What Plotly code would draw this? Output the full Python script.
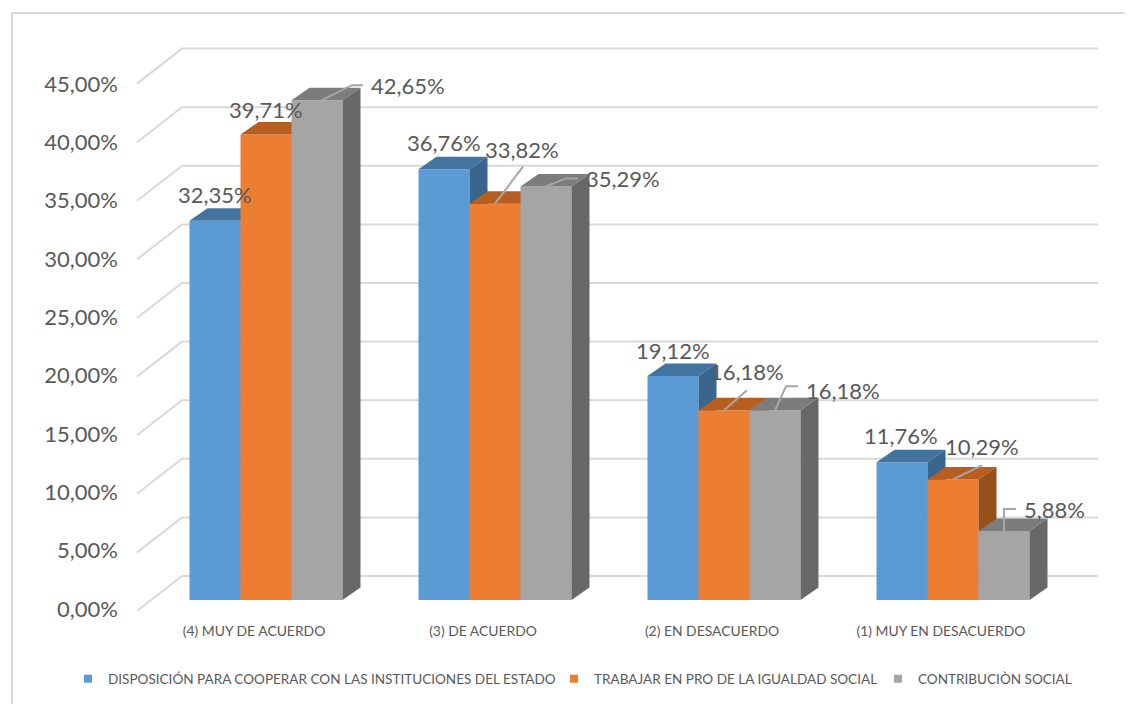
import plotly.graph_objects as go

categories = ["(4) MUY DE ACUERDO", "(3) DE ACUERDO", "(2) EN DESACUERDO", "(1) MUY EN DESACUERDO"]
series_names = ["DISPOSICIÓN PARA COOPERAR CON LAS INSTITUCIONES DEL ESTADO",
                "TRABAJAR EN PRO DE LA IGUALDAD SOCIAL",
                "CONTRIBUCIÒN SOCIAL"]
disposicion = [32.35, 36.76, 19.12, 11.76]
igualdad = [39.71, 33.82, 16.18, 10.29]
contribucion = [42.65, 35.29, 16.18, 5.88]
tick_values = [0, 5, 10, 15, 20, 25, 30, 35, 40, 45]
tick_labels = ["0,00%", "5,00%", "10,00%", "15,00%", "20,00%", "25,00%", "30,00%", "35,00%", "40,00%", "45,00%"]

all_series = [disposicion, igualdad, contribucion]
W, H = 1133, 704
PAGE = 8            # the page's body margin; the figure starts here
FW, FH = W - PAGE, H - PAGE
front_colors = ["#5B9BD5", "#ED7D31", "#A5A5A5"]
top_colors = ["#4374A0", "#B65E20", "#7C7C7C"]
side_colors = ["#3A658C", "#96501A", "#686868"]
TEXT = "#595959"
GRID = "#D9D9D9"
FONT = "Lato"

# scale of the chart, in page pixels
CAT_PX = 229.0      # px per category
VAL_PX = 11.72      # px per percentage point
CAT0_PX = 254.0     # px of first category label
BASE_PX = 600.0     # px of value 0 on the bar fronts
BAR_PX = 51.0
FIRST_BAR_PX = 189.5
DEPTH_X, DEPTH_Y = 18.0, 12.5

xr = [(PAGE - CAT0_PX) / CAT_PX, (W - CAT0_PX) / CAT_PX]
yr = [(BASE_PX - H) / VAL_PX, (BASE_PX - PAGE) / VAL_PX]
dxu = lambda p: p / CAT_PX
dyu = lambda p: p / VAL_PX
xpx = lambda p: (p - CAT0_PX) / CAT_PX
ypx = lambda p: (BASE_PX - p) / VAL_PX
paper_x = lambda p: (p - PAGE) / FW
paper_y = lambda p: 1 - (p - PAGE) / FH

fig = go.Figure()

# back wall: floor-to-wall diagonal plus horizontal gridline per tick
FRONT_X, BACK_X, END_X = 137, 182, 1098
FRONT_Y0, BACK_Y0 = 611, 576
wx, wy = [], []
for v in tick_values:
    wx += [xpx(FRONT_X), xpx(BACK_X), xpx(END_X), None]
    wy += [v + ypx(FRONT_Y0), v + ypx(BACK_Y0), v + ypx(BACK_Y0), None]
fig.add_trace(go.Scatter(x=wx, y=wy, mode="lines", line=dict(color=GRID, width=2),
                         hoverinfo="skip", showlegend=False))

# invisible trace that keeps the tick label axis alive
fig.add_trace(go.Scatter(x=[0, 0], y=[tick_values[0], tick_values[-1]], yaxis="y5", mode="lines",
                         line=dict(width=0), opacity=0, hoverinfo="skip", showlegend=False))

offset0 = (FIRST_BAR_PX - CAT0_PX) / CAT_PX
bw = BAR_PX / CAT_PX
idx = list(range(len(categories)))
for s, vals in enumerate(all_series):
    xa, ya = f"x{s + 2}", f"y{s + 2}"
    off = offset0 + s * bw
    fig.add_trace(go.Bar(x=idx, y=vals, width=bw, offset=off, marker=dict(color=front_colors[s], line=dict(width=0)),
                         name=series_names[s], xaxis=xa, yaxis=ya, showlegend=False))
    for i, v in zip(idx, vals):
        x0, x1 = i + off, i + off + bw
        dx, dy = dxu(DEPTH_X), dyu(DEPTH_Y)
        fig.add_trace(go.Scatter(x=[x0, x1, x1 + dx, x0 + dx, x0], y=[v, v, v + dy, v + dy, v],
                                 fill="toself", fillcolor=top_colors[s], mode="lines", line=dict(width=0),
                                 xaxis=xa, yaxis=ya, hoverinfo="skip", showlegend=False))
        fig.add_trace(go.Scatter(x=[x1, x1, x1 + dx, x1 + dx, x1], y=[0, v, v + dy, dy, 0],
                                 fill="toself", fillcolor=side_colors[s], mode="lines", line=dict(width=0),
                                 xaxis=xa, yaxis=ya, hoverinfo="skip", showlegend=False))


def anchor(s, c):
    return c + offset0 + (s + 0.5) * bw


# data labels: pixel offset of the label centre from the top centre of its bar
label_offsets = {
    0: [(0, -26), (0, -27), (0, -25), (-1, -27)],
    1: [(0, -25), (27, -54), (23, -39), (29, -33)],
    2: [(91, -15), (77, -8), (68, -20), (50, -22)],
}
# leader lines, in pixel offsets from the top centre of the bar
leaders = {
    (2, 0): [(5, 0), (35, -15), (46, -15)],
    (1, 1): [(0, 0), (28, -37)],
    (2, 1): [(0, 0), (20, -8), (32, -8)],
    (1, 2): [(0, 0), (23, -20)],
    (2, 2): [(0, 0), (11, -24), (23, -24)],
    (1, 3): [(0, 0), (29, -14)],
    (2, 3): [(0, 0), (0, -22), (12, -22)],
}
lx, ly = [], []
for (s, c), pts in leaders.items():
    v = all_series[s][c]
    for ox, oy in pts:
        lx.append(anchor(s, c) + dxu(ox))
        ly.append(v - dyu(oy))
    lx.append(None)
    ly.append(None)
fig.add_trace(go.Scatter(x=lx, y=ly, mode="lines", line=dict(color="#A6A6A6", width=2),
                         xaxis="x4", yaxis="y4", hoverinfo="skip", showlegend=False))

annotations = []
for s, vals in enumerate(all_series):
    for c, v in enumerate(vals):
        ox, oy = label_offsets[s][c]
        annotations.append(dict(x=anchor(s, c), y=v, xref="x", yref="y", xshift=ox, yshift=-oy,
                                text=f"{v:.2f}%".replace(".", ","), showarrow=False,
                                xanchor="center", yanchor="middle",
                                font=dict(family=FONT, size=22, color=TEXT)))

# legends, one per series so each text sits where the reference has it
legend_text_x = [108, 594, 918]
LEG_Y = 679
for s, name in enumerate(series_names):
    fig.add_trace(go.Scatter(x=[None], y=[None], mode="markers", name=name,
                             marker=dict(symbol="square", size=8, color=front_colors[s]),
                             legend="legend" if s == 0 else f"legend{s + 1}", showlegend=True))

layout = dict(
    width=FW, height=FH, autosize=False, margin=dict(l=0, r=0, t=0, b=0, autoexpand=False),
    paper_bgcolor="white", plot_bgcolor="rgba(0,0,0,0)", separators=",.",
    barmode="overlay", annotations=annotations,
    font=dict(family=FONT, color=TEXT),
    hovermode=False,
    xaxis=dict(range=xr, domain=[0, 1], tickmode="array", tickvals=idx, ticktext=categories,
               anchor="free", position=paper_y(621), showgrid=False, zeroline=False, showline=False, ticks="",
               tickfont=dict(family=FONT, size=13.9, color=TEXT)),
    yaxis=dict(range=yr, domain=[0, 1], visible=False, fixedrange=True),
    yaxis5=dict(range=[tick_values[0], tick_values[-1]], domain=[paper_y(609), paper_y(84)], anchor="free",
                position=paper_x(118), side="left", tickmode="array", tickvals=tick_values, ticktext=tick_labels,
                showgrid=False, zeroline=False, showline=False, ticks="",
                tickfont=dict(family=FONT, size=22, color=TEXT)),
    shapes=[dict(type="path", xref="paper", yref="paper",
                 path=f"M {paper_x(12)} 0 L {paper_x(12)} {paper_y(13)} L 1 {paper_y(13)}",
                 line=dict(color=GRID, width=2))],
)
for s in range(3):
    n = s + 2
    layout[f"xaxis{n}"] = dict(range=xr, overlaying="x", visible=False, anchor=f"y{n}")
    layout[f"yaxis{n}"] = dict(range=yr, overlaying="y", visible=False, anchor=f"x{n}")
    leg = dict(x=paper_x(legend_text_x[s] - 40), y=paper_y(LEG_Y), xanchor="left", yanchor="middle",
               bgcolor="rgba(0,0,0,0)", borderwidth=0, font=dict(family=FONT, size=13.55, color=TEXT))
    layout["legend" if s == 0 else f"legend{s + 1}"] = leg
fig.update_layout(**layout)
fig.write_html("out.html")
